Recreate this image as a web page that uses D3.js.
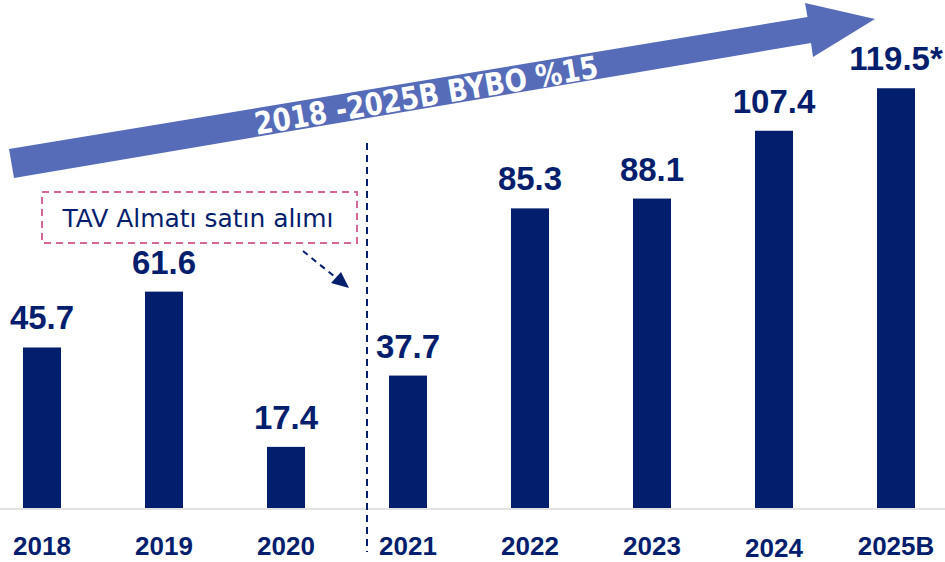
<!DOCTYPE html>
<html>
<head>
<meta charset="utf-8">
<script src="https://cdn.jsdelivr.net/npm/d3@7"></script>
<style>
  html, body { margin: 0; padding: 0; background: #fff; }
  svg { display: block; }
</style>
</head>
<body>
<svg id="chart" width="945" height="562"></svg>
<script>
const years = ["2018", "2019", "2020", "2021", "2022", "2023", "2024", "2025B"];
const values = [45.7, 61.6, 17.4, 37.7, 85.3, 88.1, 107.4, 119.5];
const valueLabels = ["45.7", "61.6", "17.4", "37.7", "85.3", "88.1", "107.4", "119.5*"];
const arrowText = "2018 -2025B BYBO %15";
const noteText = "TAV Almatı satın alımı";

const navy = "#041E6E";
const svg = d3.select("#chart");

const x = d3.scalePoint().domain(years).range([-19, 957]).padding(0.5);
const y = d3.scaleLinear().domain([0, 120]).range([508, 86.5]);
const barW = 38;

// axis line
svg.append("line")
  .attr("x1", 0).attr("x2", 945)
  .attr("y1", y(0) + 1).attr("y2", y(0) + 1)
  .attr("stroke", "#d9d9d9").attr("stroke-width", 1.5);

// bars
svg.selectAll("rect.bar").data(values).join("rect")
  .attr("class", "bar")
  .attr("x", (d, i) => x(years[i]) - barW / 2)
  .attr("width", barW)
  .attr("y", d => y(d))
  .attr("height", d => y(0) - y(d))
  .attr("fill", navy);

// value labels
svg.selectAll("text.val").data(values).join("text")
  .attr("class", "val")
  .attr("x", (d, i) => x(years[i]))
  .attr("y", d => y(d) - 18)
  .attr("text-anchor", "middle")
  .attr("font-family", "Liberation Sans, Arial, sans-serif")
  .attr("font-weight", "bold")
  .attr("font-size", 33)
  .attr("fill", navy)
  .text((d, i) => valueLabels[i]);

// year labels
svg.selectAll("text.yr").data(years).join("text")
  .attr("class", "yr")
  .attr("x", d => x(d))
  .attr("y", d => d === "2024" ? 557 : 555)
  .attr("text-anchor", "middle")
  .attr("font-family", "Liberation Sans, Arial, sans-serif")
  .attr("font-weight", "bold")
  .attr("font-size", 26)
  .attr("fill", navy)
  .text(d => d);

// vertical dashed separator between 2020 and 2021
const sepX = (x("2020") + x("2021")) / 2 + 20;
svg.append("line")
  .attr("x1", sepX).attr("x2", sepX)
  .attr("y1", 143).attr("y2", 552)
  .attr("stroke", navy).attr("stroke-width", 2)
  .attr("stroke-dasharray", "7,5");

// big growth arrow
const arrowPts = [[9,149],[807.5,17],[805,3],[875,19],[813,57],[811,43],[14,178]];
svg.append("polygon")
  .attr("points", arrowPts.map(p => p.join(",")).join(" "))
  .attr("fill", "#566CB8");

const ang = -Math.atan(0.167) * 180 / Math.PI;
svg.append("text")
  .attr("transform", `translate(428,106) rotate(${ang})`)
  .attr("text-anchor", "middle")
  .attr("font-family", "DejaVu Sans, sans-serif")
  .attr("font-weight", "bold")
  .attr("font-size", 31)
  .attr("fill", "#fff")
  .attr("textLength", 348)
  .attr("lengthAdjust", "spacingAndGlyphs")
  .text(arrowText);

// annotation box
svg.append("rect")
  .attr("x", 42).attr("y", 192).attr("width", 315).attr("height", 51)
  .attr("fill", "none")
  .attr("stroke", "#D4669A").attr("stroke-width", 2)
  .attr("stroke-dasharray", "7,5");

svg.append("text")
  .attr("x", 198).attr("y", 227)
  .attr("text-anchor", "middle")
  .attr("font-family", "DejaVu Sans, sans-serif")
  .attr("font-size", 24)
  .attr("fill", navy)
  .attr("textLength", 271)
  .attr("lengthAdjust", "spacingAndGlyphs")
  .text(noteText);

// dashed pointer arrow
svg.append("line")
  .attr("x1", 303).attr("y1", 251)
  .attr("x2", 340).attr("y2", 281)
  .attr("stroke", navy).attr("stroke-width", 2)
  .attr("stroke-dasharray", "6,5");
svg.append("path")
  .attr("d", "M349,288 L331,283 L341,272 Z")
  .attr("fill", navy);
</script>
</body>
</html>
